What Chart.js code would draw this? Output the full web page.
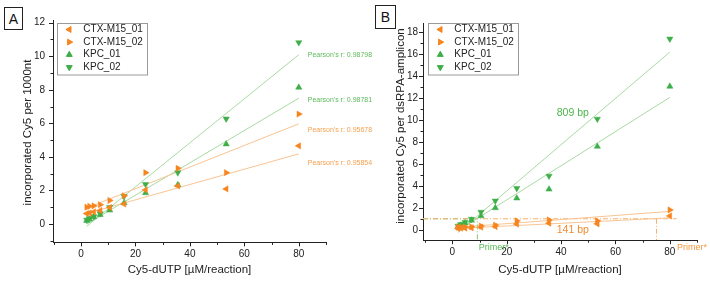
<!DOCTYPE html>
<html><head><meta charset="utf-8">
<script src="https://cdn.jsdelivr.net/npm/chart.js@4.4.0/dist/chart.umd.min.js"></script>
<style>
html,body{margin:0;padding:0;background:#fff;}
#wrap{position:relative;width:710px;height:282px;overflow:hidden;background:#fff;}
canvas{position:absolute;top:0;}
.panel{position:absolute;border:1px solid #222;background:#fff;font:14px "Liberation Sans",Arial,sans-serif;color:#111;display:flex;align-items:center;justify-content:center;box-sizing:border-box;}
</style></head><body>
<div id="wrap">
<canvas id="ca" width="380" height="282" style="left:0;width:380px;height:282px"></canvas>
<canvas id="cb" width="355" height="282" style="left:355px;width:355px;height:282px"></canvas>
<div class="panel" style="left:4px;top:7px;width:19px;height:23px">A</div>
<div class="panel" style="left:375px;top:5px;width:21px;height:24px">B</div>
</div>
<script>
// ---------- data ----------
const xConc = [2.08, 3.12, 4.68, 7.02, 10.53, 15.8, 23.7, 35.56, 53.33, 80];
const seriesNames = ['CTX-M15_01', 'CTX-M15_02', 'KPC_01', 'KPC_02'];
// Panel A: incorporated Cy5 per 1000 nt
const aCTX01 = [0.62, 0.66, 0.72, 0.80, 0.98, 1.19, 2.03, 2.27, 2.09, 4.66];
const aCTX02 = [1.00, 1.05, 1.08, 1.15, 1.40, 1.68, 3.06, 3.32, 3.06, 6.55];
const aKPC01 = [0.20, 0.28, 0.42, 0.55, 0.82, 1.25, 1.85, 2.33, 4.76, 8.14];
const aKPC02 = [0.24, 0.34, 0.44, 0.62, 1.00, 1.65, 2.37, 3.06, 6.27, 10.82];
// Panel B: incorporated Cy5 per dsRPA-amplicon
const bCTX01 = [0.17, 0.19, 0.20, 0.23, 0.28, 0.34, 0.57, 0.64, 0.59, 1.31];
const bCTX02 = [0.28, 0.30, 0.30, 0.32, 0.39, 0.47, 0.86, 0.94, 0.86, 1.85];
const bKPC01 = [0.32, 0.45, 0.66, 0.90, 1.30, 2.04, 2.92, 3.73, 7.62, 13.08];
const bKPC02 = [0.39, 0.55, 0.73, 1.02, 1.66, 2.68, 3.82, 4.94, 10.12, 17.40];
// linear fits (value at the two ends of fitX)
const fitX = [2.08, 80];
const aFitCTX01 = [0.62, 4.18];
const aFitCTX02 = [0.95, 5.97];
const aFitKPC01 = [-0.01, 7.50];
const aFitKPC02 = [-0.14, 10.09];
const bFitCTX01 = [0.17, 1.13];
const bFitCTX02 = [0.27, 1.72];
const bFitKPC01 = [-0.02, 12.08];
const bFitKPC02 = [-0.20, 16.20];
const pearsonA = ['0.95854', '0.95678', '0.98781', '0.98798'];
// primer* reference level and cross-over concentrations (panel B)
const primerLevel = 1.05;
const primerX = [9.2, 75.1];   // KPC (green), CTX-M15 (orange)
const ampliconLabels = ['141 bp', '809 bp'];

// ---------- styles ----------
const FONT = '"Liberation Sans", Arial, sans-serif';
const ORANGE = '#f6851f', GREEN = '#3fae48';
const ORANGE_L = '#f8c493', GREEN_L = '#a8daa2';
const COLORS = [ORANGE, ORANGE, GREEN, GREEN];
const LIGHT = [ORANGE_L, ORANGE_L, GREEN_L, GREEN_L];
const ROT = [270, 90, 0, 180];
const AXIS = '#222';

const deco = {
  id: 'deco',
  afterDraw(chart, args, o) {
    const ctx = chart.ctx, ca = chart.chartArea, xs = chart.scales.x, ys = chart.scales.y;
    ctx.save();
    // tick marks (major/minor)
    ctx.strokeStyle = AXIS; ctx.lineWidth = 1;
    ctx.beginPath();
    xs.ticks.forEach(t => {
      const px = Math.round(xs.getPixelForValue(t.value)) + 0.5;
      const len = t.label !== '' ? 4 : 2.5;
      ctx.moveTo(px, ca.bottom); ctx.lineTo(px, ca.bottom + len);
    });
    ys.ticks.forEach(t => {
      const py = Math.round(ys.getPixelForValue(t.value)) + 0.5;
      const len = t.label !== '' ? 4 : 2.5;
      ctx.moveTo(ca.left, py); ctx.lineTo(ca.left - len, py);
    });
    ctx.stroke();
    // axis titles
    ctx.fillStyle = '#222';
    ctx.font = '11.5px ' + FONT;
    ctx.textAlign = 'center'; ctx.textBaseline = 'middle';
    ctx.fillText(o.xTitle, (ca.left + ca.right) / 2, o.xTitleY);
    ctx.save();
    ctx.translate(ca.left + o.yTitleDX, o.yTitleY);
    ctx.rotate(-Math.PI / 2);
    ctx.fillText(o.yTitle, 0, 0);
    ctx.restore();
    // legend
    const bx = ca.left + o.legDX, by = 22.5, bw = 90, bh = 51.5;
    ctx.fillStyle = '#fff';
    ctx.fillRect(bx, by, bw, bh);
    ctx.strokeStyle = '#9a9a9a'; ctx.lineWidth = 1;
    ctx.strokeRect(Math.round(bx) + 0.5, Math.round(by) + 0.5, bw, bh);
    ctx.font = '10px ' + FONT; ctx.textAlign = 'left'; ctx.textBaseline = 'middle';
    seriesNames.forEach((n, i) => {
      const yy = by + 7 + i * 12.6;
      ctx.fillStyle = COLORS[i]; ctx.strokeStyle = COLORS[i];
      Chart.helpers.drawPoint(ctx, {pointStyle: 'triangle', rotation: ROT[i], radius: 3.4, borderWidth: 0.5}, bx + 12.6, yy);
      ctx.fillStyle = '#222';
      ctx.fillText(n, bx + 26.6, yy);
    });
    // annotations
    (o.notes || []).forEach(a => {
      ctx.font = a.size + 'px ' + FONT;
      ctx.fillStyle = a.color; ctx.textAlign = 'left'; ctx.textBaseline = 'middle';
      ctx.fillText(a.text, xs.getPixelForValue(a.x), ys.getPixelForValue(a.y));
    });
    ctx.restore();
  }
};

function scatterSets(series, fits) {
  const ds = [];
  series.forEach((s, i) => {
    ds.push({
      label: seriesNames[i],
      data: xConc.map((x, k) => ({x, y: s[k]})),
      pointStyle: 'triangle', pointRotation: ROT[i], pointRadius: 3.6,
      pointBackgroundColor: COLORS[i], pointBorderColor: COLORS[i], pointBorderWidth: 0.5,
      showLine: false, order: 0
    });
  });
  fits.forEach((f, i) => {
    ds.push({
      data: fitX.map((x, k) => ({x, y: f[k]})),
      showLine: true, pointRadius: 0, borderColor: LIGHT[i], borderWidth: 1, order: 2
    });
  });
  return ds;
}

function makeChart(id, cfg) {
  return new Chart(document.getElementById(id), {
    type: 'scatter',
    data: {datasets: cfg.datasets},
    options: {
      responsive: false, animation: false, devicePixelRatio: 1,
      layout: {padding: {left: 0, top: cfg.top, right: cfg.right, bottom: 0}},
      plugins: {legend: {display: false}, tooltip: {enabled: false}, deco: cfg.deco},
      scales: {
        x: {
          type: 'linear', min: cfg.xmin, max: 90,
          afterFit: s => { s.height = cfg.xh; },
          grid: {display: false, drawTicks: true, tickLength: 4},
          border: {display: true, color: AXIS, width: 1},
          ticks: {stepSize: 10, includeBounds: false, autoSkip: false, maxRotation: 0, padding: 2,
            color: '#222', font: {family: FONT, size: 10},
            callback: v => (Math.abs(v % 20) < 1e-9 ? String(v) : '')}
        },
        y: {
          type: 'linear', min: cfg.ymin, max: cfg.ymax,
          afterFit: s => { s.width = cfg.yw; },
          grid: {display: false, drawTicks: true, tickLength: 4},
          border: {display: true, color: AXIS, width: 1},
          ticks: {stepSize: 1, includeBounds: false, autoSkip: false, padding: cfg.ypad,
            color: '#222', font: {family: FONT, size: 10},
            callback: v => (Math.abs(v % 2) < 1e-9 ? String(v) : '')}
        }
      }
    },
    plugins: [deco]
  });
}

// ---------- panel A ----------
makeChart('ca', {
  datasets: scatterSets([aCTX01, aCTX02, aKPC01, aKPC02], [aFitCTX01, aFitCTX02, aFitKPC01, aFitKPC02]),
  top: 20.2, right: 380 - 326, xh: 282 - 242.4, yw: 53, ypad: 4,
  xmin: -10.3, ymin: -1.1, ymax: 12.15,
  deco: {
    xTitle: 'Cy5-dUTP [µM/reaction]', xTitleY: 269.5,
    yTitle: 'incorporated Cy5 per 1000nt', yTitleDX: -25.3, yTitleY: 132.5,
    legDX: 3.7,
    notes: [
      {text: "Pearson's r: " + pearsonA[3], x: 83.3, y: 10.05, color: '#5cb95c', size: 7},
      {text: "Pearson's r: " + pearsonA[2], x: 83.3, y: 7.40, color: '#5cb95c', size: 7},
      {text: "Pearson's r: " + pearsonA[1], x: 83.3, y: 5.61, color: '#f5a050', size: 7},
      {text: "Pearson's r: " + pearsonA[0], x: 83.3, y: 3.62, color: '#f5a050', size: 7}
    ]
  }
});

// ---------- panel B ----------
const bSets = scatterSets([bCTX01, bCTX02, bKPC01, bKPC02], [bFitCTX01, bFitCTX02, bFitKPC01, bFitKPC02]);
const xLeftB = -10.8, yBottomB = -0.9;
bSets.push({
  data: [{x: xLeftB, y: primerLevel}, {x: 82.5, y: primerLevel}],
  showLine: true, pointRadius: 0, borderColor: '#f6b06c', borderWidth: 1, borderDash: [5, 2, 1, 2], order: 3
});
bSets.push({
  data: [{x: primerX[1], y: primerLevel}, {x: primerX[1], y: yBottomB}],
  showLine: true, pointRadius: 0, borderColor: '#f6b06c', borderWidth: 1, borderDash: [5, 2, 1, 2], order: 3
});
bSets.push({
  data: [{x: xLeftB, y: primerLevel}, {x: primerX[0], y: primerLevel}, {x: primerX[0], y: yBottomB}],
  showLine: true, pointRadius: 0, borderColor: '#86c56e', borderWidth: 1, borderDash: [5, 2, 1, 2], order: 3
});
makeChart('cb', {
  datasets: bSets,
  top: 23.5, right: 355 - 342, xh: 282 - 240.2, yw: 68, ypad: 1,
  xmin: xLeftB, ymin: yBottomB, ymax: 18.8,
  deco: {
    xTitle: 'Cy5-dUTP [µM/reaction]', xTitleY: 269.5,
    yTitle: 'incorporated Cy5 per dsRPA-amplicon', yTitleDX: -22, yTitleY: 126,
    legDX: 4.7,
    notes: [
      {text: ampliconLabels[1], x: 38.4, y: 10.69, color: '#4cb44c', size: 10.5},
      {text: ampliconLabels[0], x: 38.4, y: 0.0, color: '#f28a2e', size: 10.5},
      {text: 'Primer*', x: 9.7, y: -1.55, color: '#5ab85a', size: 9},
      {text: 'Primer*', x: 82.6, y: -1.55, color: '#f59a40', size: 9}
    ]
  }
});
</script>
</body></html>
